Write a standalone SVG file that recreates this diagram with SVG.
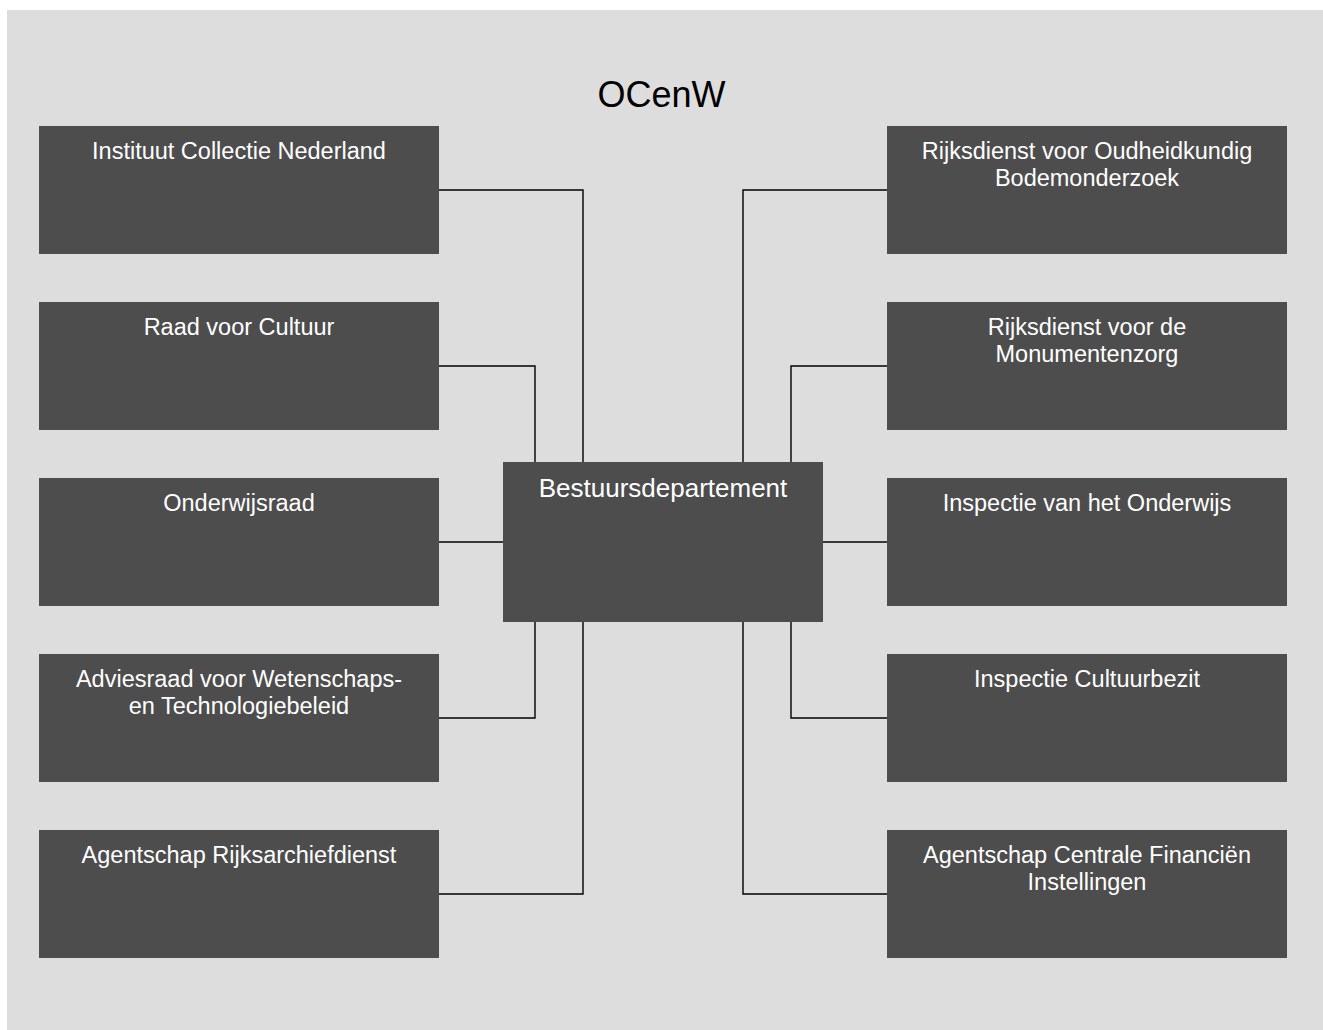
<svg xmlns="http://www.w3.org/2000/svg" width="1323" height="1030" viewBox="0 0 1323 1030">
<style>
.box{fill:#4d4d4d}
.t{font-family:"Liberation Sans",Arial,sans-serif;font-size:23.5px;fill:#ffffff;text-anchor:middle}
.tc{font-family:"Liberation Sans",Arial,sans-serif;font-size:26px;fill:#ffffff;text-anchor:middle}
.title{font-family:"Liberation Sans",Arial,sans-serif;font-size:36px;fill:#000000;text-anchor:middle}
.c{fill:none;stroke:#000000;stroke-width:1.4}
</style>
<rect x="7" y="10" width="1316" height="1020" fill="#dddddd"/>
<text class="title" x="661.5" y="106.5">OCenW</text>
<g id="connectors">
<polyline class="c" points="439,190 583,190 583,462"/>
<polyline class="c" points="439,366 535,366 535,462"/>
<polyline class="c" points="439,542 503,542"/>
<polyline class="c" points="439,718 535,718 535,622"/>
<polyline class="c" points="439,894 583,894 583,622"/>
<polyline class="c" points="887,190 743,190 743,462"/>
<polyline class="c" points="887,366 791,366 791,462"/>
<polyline class="c" points="823,542 887,542"/>
<polyline class="c" points="887,718 791,718 791,622"/>
<polyline class="c" points="887,894 743,894 743,622"/>
</g>
<g id="bestuursdepartement"><rect class="box" x="503" y="462" width="320" height="160"/><text class="tc" x="663" y="496.5">Bestuursdepartement</text></g>
<g id="icn"><rect class="box" x="39" y="126" width="400" height="128"/><text class="t" x="239" y="158.5">Instituut Collectie Nederland</text></g>
<g id="rvc"><rect class="box" x="39" y="302" width="400" height="128"/><text class="t" x="239" y="334.5">Raad voor Cultuur</text></g>
<g id="onderwijsraad"><rect class="box" x="39" y="478" width="400" height="128"/><text class="t" x="239" y="510.5">Onderwijsraad</text></g>
<g id="awt"><rect class="box" x="39" y="654" width="400" height="128"/><text class="t" x="239" y="686.5">Adviesraad voor Wetenschaps-</text><text class="t" x="239" y="713.5">en Technologiebeleid</text></g>
<g id="ara"><rect class="box" x="39" y="830" width="400" height="128"/><text class="t" x="239" y="862.5">Agentschap Rijksarchiefdienst</text></g>
<g id="rob"><rect class="box" x="887" y="126" width="400" height="128"/><text class="t" x="1087" y="158.5">Rijksdienst voor Oudheidkundig</text><text class="t" x="1087" y="185.5">Bodemonderzoek</text></g>
<g id="rdmz"><rect class="box" x="887" y="302" width="400" height="128"/><text class="t" x="1087" y="334.5">Rijksdienst voor de</text><text class="t" x="1087" y="361.5">Monumentenzorg</text></g>
<g id="ivho"><rect class="box" x="887" y="478" width="400" height="128"/><text class="t" x="1087" y="510.5">Inspectie van het Onderwijs</text></g>
<g id="ic"><rect class="box" x="887" y="654" width="400" height="128"/><text class="t" x="1087" y="686.5">Inspectie Cultuurbezit</text></g>
<g id="cfi"><rect class="box" x="887" y="830" width="400" height="128"/><text class="t" x="1087" y="862.5">Agentschap Centrale Financiën</text><text class="t" x="1087" y="889.5">Instellingen</text></g>
</svg>
